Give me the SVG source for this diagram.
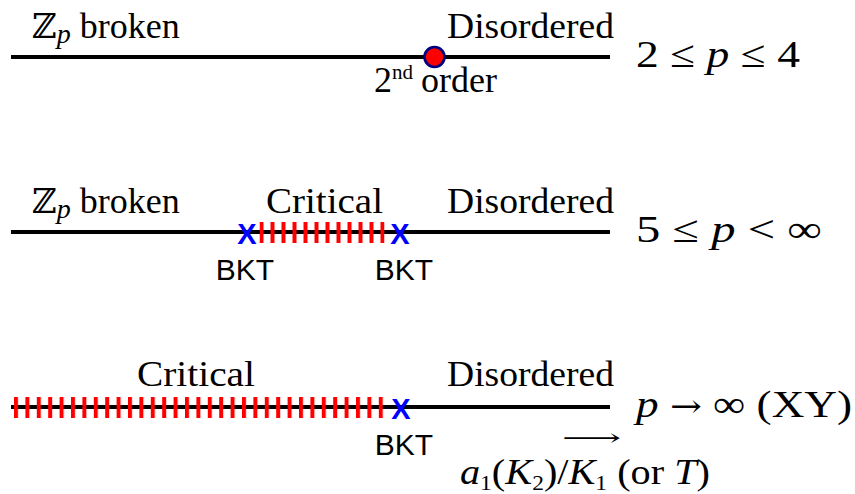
<svg xmlns="http://www.w3.org/2000/svg" width="855" height="494" viewBox="0 0 855 494">
<defs>
<style>
.axis{stroke:#000;stroke-width:4;fill:none}
.lbl{font-family:"Liberation Serif","Times New Roman",serif;font-size:36px;fill:#000}
.math{font-family:"Liberation Serif","Times New Roman",serif;font-size:38px;fill:#000}
.it{font-style:italic}
.sym{font-family:"DejaVu Serif","DejaVu Sans",serif}
.bkt{font-family:"Liberation Sans",Arial,sans-serif;font-size:30px;fill:#000;text-anchor:middle}
.xm{font-family:"Liberation Sans",Arial,sans-serif;font-weight:bold;font-size:29px;fill:#0000ff;text-anchor:middle}
</style>
<pattern id="bars2" x="259.5" y="0" width="11" height="494" patternUnits="userSpaceOnUse">
<rect x="0" y="0" width="4" height="494" fill="#ff0000"/>
</pattern>
<pattern id="bars3" x="14" y="0" width="11.4" height="494" patternUnits="userSpaceOnUse">
<rect x="0" y="0" width="4" height="494" fill="#ff0000"/>
</pattern>
</defs>

<g id="connectors">
<line class="axis" x1="11" y1="57" x2="610" y2="57"/>
<line class="axis" x1="11" y1="232" x2="610" y2="232"/>
<line class="axis" x1="11" y1="407" x2="610" y2="407"/>
</g>

<g id="row1">
<text class="lbl" x="32" y="38"><tspan class="sym" font-size="34">ℤ</tspan><tspan class="it" dy="5" font-size="28">p</tspan><tspan dy="-5"> broken</tspan></text>
<text class="lbl" x="447" y="38" textLength="167" lengthAdjust="spacingAndGlyphs">Disordered</text>
<circle id="second-order-point" cx="434.5" cy="57" r="10" fill="#ff0000" stroke="#000080" stroke-width="2.7"/>
<text class="lbl" x="374" y="92" font-size="31">2<tspan dy="-13" font-size="21">nd</tspan><tspan dy="13" dx="8">order</tspan></text>
<text class="math" x="636" y="67" textLength="164" lengthAdjust="spacingAndGlyphs">2 ≤ <tspan class="it">p</tspan> ≤ 4</text>
</g>

<g id="row2">
<text class="lbl" x="32" y="213"><tspan class="sym" font-size="34">ℤ</tspan><tspan class="it" dy="5" font-size="28">p</tspan><tspan dy="-5"> broken</tspan></text>
<text class="lbl" x="266" y="213" textLength="117" lengthAdjust="spacingAndGlyphs">Critical</text>
<text class="lbl" x="447" y="213" textLength="167" lengthAdjust="spacingAndGlyphs">Disordered</text>
<rect id="critical-band-2" x="259.5" y="222" width="125" height="21" fill="url(#bars2)"/>
<text id="bkt-x-1" class="xm" x="247" y="244">X</text>
<text id="bkt-x-2" class="xm" x="400" y="244">X</text>
<text class="bkt" x="245" y="280">BKT</text>
<text class="bkt" x="404" y="280">BKT</text>
<text class="math" x="636" y="242" textLength="186" lengthAdjust="spacingAndGlyphs">5 ≤ <tspan class="it">p</tspan> &lt; ∞</text>
</g>

<g id="row3">
<text class="lbl" x="137" y="386" textLength="118" lengthAdjust="spacingAndGlyphs">Critical</text>
<text class="lbl" x="447" y="386" textLength="167" lengthAdjust="spacingAndGlyphs">Disordered</text>
<rect id="critical-band-3" x="14" y="397" width="370" height="21" fill="url(#bars3)"/>
<text id="bkt-x-3" class="xm" x="401" y="419">X</text>
<text class="bkt" x="404" y="455">BKT</text>
<text class="math" x="636" y="417" textLength="216" lengthAdjust="spacingAndGlyphs"><tspan class="it">p</tspan> <tspan class="sym" font-size="32">→</tspan> ∞ (XY)</text>
<text class="sym" x="562" y="446" font-size="24" textLength="59" lengthAdjust="spacingAndGlyphs">⟶</text>
<text class="lbl" x="460" y="484" font-size="31" textLength="250" lengthAdjust="spacingAndGlyphs"><tspan class="it">a</tspan><tspan dy="6" font-size="21">1</tspan><tspan dy="-6">(</tspan><tspan class="it">K</tspan><tspan dy="6" font-size="21">2</tspan><tspan dy="-6">)/</tspan><tspan class="it">K</tspan><tspan dy="6" font-size="21">1</tspan><tspan dy="-6"> (or </tspan><tspan class="it">T</tspan>)</text>
</g>
</svg>
